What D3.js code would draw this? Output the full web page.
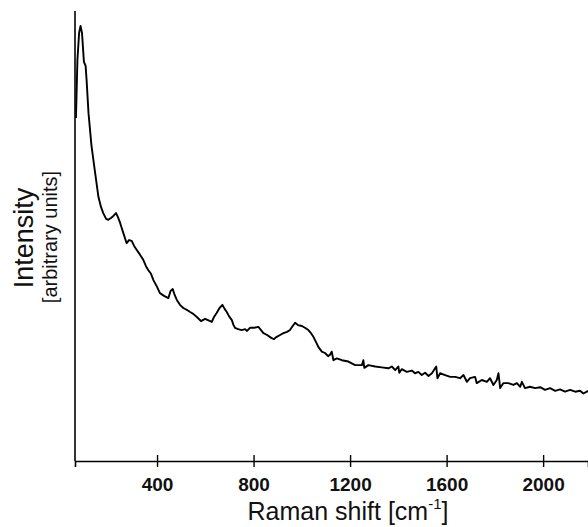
<!DOCTYPE html>
<html>
<head>
<meta charset="utf-8">
<script src="https://cdn.jsdelivr.net/npm/d3@7"></script>
<style>
  body { margin: 0; background: #fff; }
  svg { display: block; font-family: 'Liberation Sans', Arial, sans-serif; }
</style>
</head>
<body>
<svg id="chart" width="588" height="527"></svg>
<script>
// Raman shift in cm-1
const shift = [
  64, 70, 77, 83, 89, 97, 104, 108, 116, 128, 143, 157, 168, 177, 189, 198, 209, 218, 230, 238,
  247, 260, 274, 284, 295, 305, 316, 330, 343, 354, 364, 375, 385, 400, 412, 429, 447, 456, 465, 473,
  482, 495, 509, 523, 537, 550, 565, 582, 599, 611, 627, 636, 647, 659, 671, 680, 689, 698, 710, 717,
  723, 736, 751, 765, 773, 785, 802, 820, 831, 841, 856, 875, 885, 896, 910, 924, 939, 951, 962, 972,
  984, 1000, 1013, 1027, 1038, 1048, 1059, 1069, 1083, 1096, 1109,
  1117, 1124, 1131, 1145, 1166, 1193, 1221, 1249, 1255, 1259, 1276, 1304, 1331, 1359, 1373, 1387, 1400, 1404, 1414,
  1435, 1456, 1469, 1483, 1497, 1511, 1525, 1539, 1557, 1562, 1573, 1594, 1615, 1635, 1656, 1670, 1684, 1697, 1718,
  1725, 1746, 1767, 1780, 1794, 1808, 1815, 1822, 1835, 1856, 1877, 1891, 1905, 1912, 1925, 1946, 1967, 1988, 2008,
  2029, 2050, 2070, 2091, 2112, 2133, 2153, 2167, 2181, 2186
]

// intensity, arbitrary units
const intensity = [
  76.2, 89.1, 95.1, 96.7, 95.1, 88.7, 87.8, 84.7, 77.3, 70.2, 64.2, 58.7, 56.4, 55.1, 53.8, 53.6, 54.0, 54.4, 55.1, 54.2,
  52.9, 50.7, 48.4, 49.1, 48.9, 47.8, 46.9, 45.8, 44.7, 43.3, 42.4, 41.6, 40.2, 38.7, 37.3, 36.7, 36.2, 37.8, 38.2, 36.9,
  35.8, 34.7, 34.0, 33.6, 33.1, 32.7, 32.0, 31.1, 31.6, 31.3, 30.9, 32.0, 32.9, 34.0, 34.7, 33.8, 33.1, 32.2, 31.3, 30.2,
  29.6, 29.3, 29.1, 29.3, 28.9, 29.6, 29.6, 29.8, 29.1, 28.4, 28.0, 27.3, 27.1, 27.6, 28.0, 28.4, 28.7, 29.1, 30.0, 30.7,
  30.2, 30.0, 29.6, 29.1, 28.4, 27.6, 26.4, 25.3, 24.3, 24.0, 23.3,
  23.6, 24.3, 22.4, 22.8, 22.4, 22.1, 21.3, 21.3, 22.4, 20.7, 21.3, 21.0, 20.8, 20.6, 21.0, 20.2, 21.0, 19.6, 20.4,
  19.8, 20.1, 19.5, 19.8, 19.1, 19.6, 18.9, 19.5, 21.0, 18.4, 19.5, 19.1, 18.7, 18.7, 18.4, 19.1, 17.6, 18.4, 18.7,
  17.3, 18.0, 17.6, 18.4, 16.9, 18.0, 19.5, 16.2, 17.3, 17.3, 16.9, 17.3, 16.5, 17.6, 16.2, 16.5, 16.2, 16.4, 15.8,
  16.2, 15.6, 15.9, 15.4, 15.8, 15.4, 15.6, 15.0, 15.4, 15.6
]

const xTicks = [400, 800, 1200, 1600, 2000]

const svg = d3.select('#chart')
const margin = { top: 11, right: 0, bottom: 66, left: 75 }
const width = +svg.attr('width') - margin.left - margin.right
const height = +svg.attr('height') - margin.top - margin.bottom

const x = d3.scaleLinear().domain([60, 2186]).range([0, width])
const y = d3.scaleLinear().domain([0, 100]).range([height, 0])

const g = svg.append('g').attr('transform', `translate(${margin.left},${margin.top})`)

// x axis, ticks crossing the line
const xAxis = g.append('g')
  .attr('transform', `translate(0,${height})`)
  .call(d3.axisBottom(x).tickValues(xTicks).tickFormat(d3.format('d')).tickSizeOuter(0).tickSize(6))
xAxis.select('.domain').attr('stroke', '#000').attr('stroke-width', 1.6)
xAxis.selectAll('.tick line').attr('y1', -6).attr('y2', 6).attr('stroke-width', 1.4)
xAxis.selectAll('.tick text')
  .attr('y', 30).attr('dy', null)
  .attr('font-size', 19).attr('font-weight', 'bold')
  .attr('font-family', "'Liberation Sans', Arial, sans-serif")
  .attr('fill', '#111')

// y axis: bare line, no ticks
g.append('line')
  .attr('x1', 0).attr('x2', 0)
  .attr('y1', 0).attr('y2', height)
  .attr('stroke', '#000').attr('stroke-width', 1.6)

const line = d3.line()
  .x((d, i) => x(shift[i]))
  .y(d => y(d))

g.append('path')
  .datum(intensity)
  .attr('fill', 'none')
  .attr('stroke', '#000')
  .attr('stroke-width', 1.9)
  .attr('stroke-linejoin', 'round')
  .attr('d', line)

// axis titles
const xTitle = svg.append('text')
  .attr('x', 348).attr('y', 520)
  .attr('text-anchor', 'middle')
  .attr('font-size', 25)
  .attr('fill', '#111')
xTitle.append('tspan').text('Raman shift [cm')
xTitle.append('tspan').attr('font-size', 15).attr('dy', -11).text('-1')
xTitle.append('tspan').attr('dy', 11).text(']')

svg.append('text')
  .attr('transform', 'translate(33,238) rotate(-90)')
  .attr('text-anchor', 'middle')
  .attr('font-size', 27)
  .attr('fill', '#111')
  .text('Intensity')

svg.append('text')
  .attr('transform', 'translate(57,237) rotate(-90)')
  .attr('text-anchor', 'middle')
  .attr('font-size', 20)
  .attr('fill', '#111')
  .text('[arbitrary units]')
</script>
</body>
</html>
